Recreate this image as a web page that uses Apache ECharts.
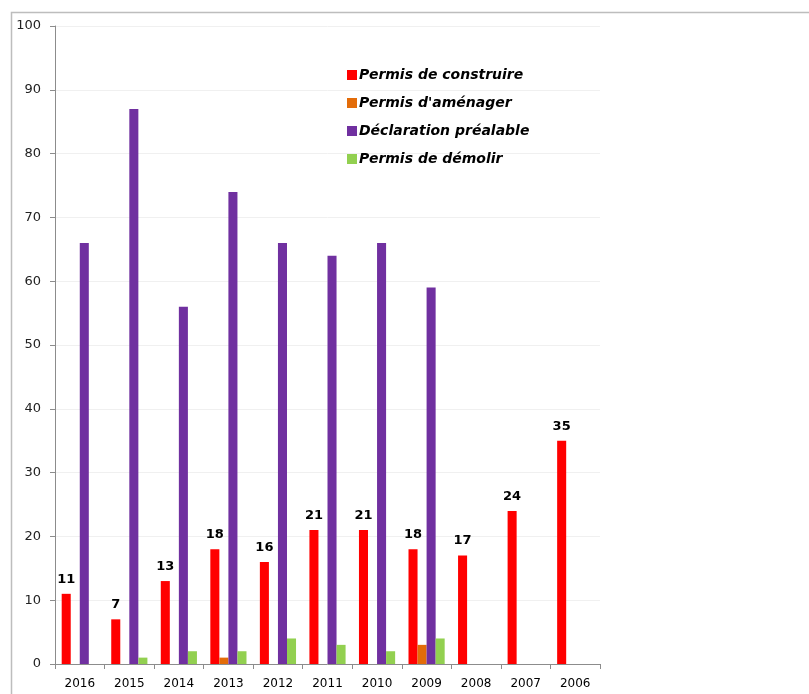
<!DOCTYPE html>
<html>
<head>
<meta charset="utf-8">
<script src="https://cdn.jsdelivr.net/npm/echarts@6/dist/echarts.min.js"></script>
<style>
  html, body { margin: 0; padding: 0; background: #fff; }
  #chart { width: 809px; height: 694px; }
</style>
</head>
<body>
<div id="chart"></div>
<script>
// Permit counts per year
const years = ['2016', '2015', '2014', '2013', '2012', '2011', '2010', '2009', '2008', '2007', '2006'];
const permisConstruire = [11, 7, 13, 18, 16, 21, 21, 18, 17, 24, 35];
const permisAmenager = [0, 0, 0, 1, 0, 0, 0, 3, 0, 0, 0];
const declarationPrealable = [66, 87, 56, 74, 66, 64, 66, 59, 0, 0, 0];
const permisDemolir = [0, 1, 2, 2, 4, 3, 2, 4, 0, 0, 0];

const seriesNames = ['Permis de construire', "Permis d'aménager", 'Déclaration préalable', 'Permis de démolir'];
const seriesColors = ['#ff0000', '#e36c09', '#7030a0', '#92d050'];
const seriesData = [permisConstruire, permisAmenager, declarationPrealable, permisDemolir];

const font = 'DejaVu Sans';
const chart = echarts.init(document.getElementById('chart'), null, { renderer: 'canvas' });

chart.setOption({
  animation: false,
  backgroundColor: '#fff',
  color: seriesColors,
  graphic: [{
    type: 'rect',
    left: 9, top: 10,
    shape: { width: 820, height: 700 },
    style: { fill: 'none', stroke: '#bdbdbd', lineWidth: 1.5 },
    silent: true
  }],
  legend: {
    orient: 'vertical',
    left: 342,
    top: 63,
    itemWidth: 10,
    itemHeight: 10,
    itemGap: 14,
    icon: 'rect',
    textStyle: { fontFamily: font, fontSize: 14, fontWeight: 'bold', fontStyle: 'italic', color: '#000', padding: [0, 0, 0, -3] },
    data: seriesNames
  },
  grid: { left: 55, top: 26, right: 209, bottom: 30, containLabel: false },
  xAxis: {
    type: 'category',
    data: years,
    axisLine: { lineStyle: { color: '#8c8c8c', width: 1 } },
    axisTick: { show: true, alignWithLabel: false, length: 5, lineStyle: { color: '#8c8c8c' } },
    axisLabel: { fontFamily: font, fontSize: 12, color: '#000', margin: 14 }
  },
  yAxis: {
    type: 'value',
    min: 0, max: 100, interval: 10,
    axisLine: { show: true, lineStyle: { color: '#8c8c8c', width: 1 } },
    axisTick: { show: true, length: 5, lineStyle: { color: '#8c8c8c' } },
    axisLabel: { fontFamily: font, fontSize: 13, color: '#222', margin: 14 },
    splitLine: { lineStyle: { color: '#f0f0f0', width: 1 } }
  },
  series: seriesData.map((d, i) => ({
    name: seriesNames[i],
    type: 'bar',
    data: d,
    barGap: '0%',
    barCategoryGap: '27%',
    label: i === 0 ? {
      show: true,
      position: 'top',
      distance: 8,
      fontFamily: font,
      fontSize: 13,
      fontWeight: 'bold',
      color: '#000'
    } : { show: false }
  }))
});
</script>
</body>
</html>
